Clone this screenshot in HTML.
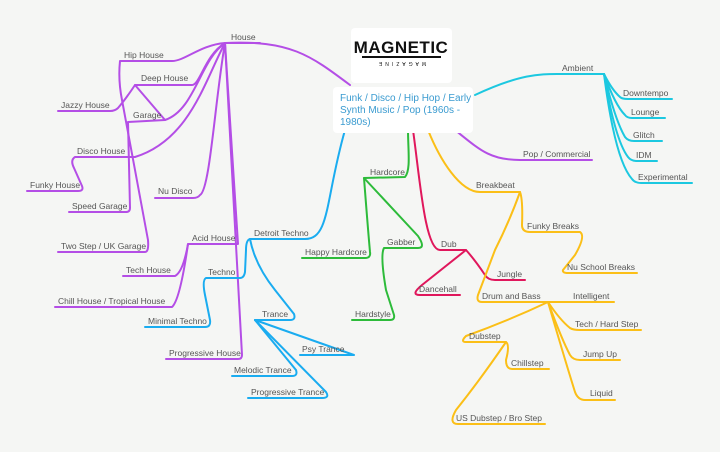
<!DOCTYPE html>
<html><head><meta charset="utf-8"><style>
html,body{margin:0;padding:0;background:#f5f6f4;}
svg{display:block;}
text{font-family:"Liberation Sans",sans-serif;font-size:8.5px;fill:#555;}
path{fill:none;stroke-width:2;stroke-linecap:round;stroke-linejoin:round;}
.p{stroke:#b44ee6}.b{stroke:#1aacf0}.g{stroke:#2dbb3a}.r{stroke:#e0175c}.y{stroke:#fbbf17}.c{stroke:#1cc8e0}
</style></head><body>
<svg width="720" height="452" viewBox="0 0 720 452">
<rect x="0" y="0" width="720" height="452" fill="#f5f6f4"/>
<g class="p">
<path d="M225 43 C290 40 310 55 350 85" stroke-width="2.5"/>
<path d="M225 43 L260 43"/>
<path d="M225 43 C200 45 185 61 172 61 L120 61 Q118 80 122 100 L148 240 Q149 252 145 252 L58 252"/>
<path d="M225 43 C205 55 200 85 192 85 L135 85 Q125 100 118 108 Q115 111 110 111 L58 111"/>
<path d="M135 85 L165 120 L128 122 L130 208 Q130 212 126 212 L69 212"/>
<path d="M225 43 C200 60 195 110 165 120"/>
<path d="M225 43 C205 80 190 140 135 157 L75 157 Q70 160 74 168 L82 186 Q84 191 78 191 L27 191"/>
<path d="M225 43 C215 100 210 190 200 195 Q198 198 193 198 L155 198"/>
<path d="M225 43 L238 244 L188 244 Q183 272 175 276 L123 276"/>
<path d="M188 244 Q180 300 172 307 L55 307"/>
<path d="M225 43 L242 355 Q242 359 238 359 L166 359"/>
<path d="M455 130 C480 150 490 160 520 160 L592 160"/>
</g>
<g class="b">
<path d="M345 130 C325 200 330 239 305 239 L250 239 Q246 240 246 250 L245 272 Q244 278 240 278 L206 278 Q202 280 205 295 L210 320 Q211 327 205 327 L145 327"/>
<path d="M250 239 Q255 265 275 290 L294 314 Q296 320 290 320 L255 320"/>
<path d="M255 320 L354 355 L300 355"/>
<path d="M255 320 L296 370 Q298 376 292 376 L232 376"/>
<path d="M255 320 L326 392 Q330 398 322 398 L248 398"/>
</g>
<g class="g">
<path d="M408 130 C408 150 411 170 405 177 L364 178 Q368 230 370 252 Q371 258 365 258 L302 258"/>
<path d="M364 178 L418 236 Q426 248 418 248 L384 248 Q380 255 386 290 L394 315 Q395 320 390 320 L352 320"/>
</g>
<g class="r">
<path d="M413 130 C420 180 425 250 440 250 L466 250 Q475 260 485 275 Q488 280 495 280 L525 280"/>
<path d="M466 250 L422 285 Q410 295 420 295 L460 295"/>
</g>
<g class="y">
<path d="M428 130 C440 160 460 192 480 192 L520 192 Q523 200 522 225 Q522 232 530 232 L580 232 Q586 236 575 255 L563 270 Q562 273 568 273 L637 273"/>
<path d="M520 192 Q510 220 495 250 L478 295 Q476 302 482 302 L614 302"/>
<path d="M548 302 Q560 320 570 328 Q573 330 580 330 L641 330"/>
<path d="M548 302 Q562 340 570 355 Q573 360 580 360 L620 360"/>
<path d="M548 302 Q565 360 575 392 Q578 400 585 400 L615 400"/>
<path d="M548 302 Q510 320 466 336 Q460 342 466 342 L506 342 Q510 345 506 360 Q506 369 512 369 L549 369"/>
<path d="M506 342 Q480 380 456 410 Q448 424 458 424 L545 424"/>
</g>
<g class="c">
<path d="M475 95 C520 74 540 74 557 74 L604 74"/>
<path d="M604 74 Q612 90 620 97 Q622 99 628 99 L672 99"/>
<path d="M604 74 Q615 105 625 115 Q627 118 632 118 L665 118"/>
<path d="M604 74 Q615 120 625 137 Q628 141 634 141 L662 141"/>
<path d="M604 74 Q615 140 628 157 Q631 161 637 161 L657 161"/>
<path d="M604 74 Q615 160 632 179 Q635 183 641 183 L692 183"/>
</g>
<rect x="351" y="28" width="101" height="55" rx="4" fill="#fff"/>
<text x="401" y="53" text-anchor="middle" style="font-size:17px;font-weight:bold;fill:#111;letter-spacing:0.5px">MAGNETIC</text>
<rect x="362" y="56" width="79" height="2" fill="#111"/>
<text x="401" y="66" text-anchor="middle" style="font-size:5px;fill:#111;letter-spacing:3px" transform="rotate(180 401 64)">MAGAZINE</text>
<rect x="333" y="87" width="140" height="46" rx="4" fill="#fff"/>
<text x="340" y="101" style="font-size:10px;fill:#3a9bd0">Funk / Disco / Hip Hop / Early</text>
<text x="340" y="113" style="font-size:10px;fill:#3a9bd0">Synth Music / Pop (1960s -</text>
<text x="340" y="125" style="font-size:10px;fill:#3a9bd0">1980s)</text>
<text x="231" y="40">House</text>
<text x="124" y="58">Hip House</text>
<text x="141" y="81">Deep House</text>
<text x="61" y="108">Jazzy House</text>
<text x="133" y="118">Garage</text>
<text x="77" y="154">Disco House</text>
<text x="30" y="188">Funky House</text>
<text x="72" y="209">Speed Garage</text>
<text x="158" y="194">Nu Disco</text>
<text x="61" y="249">Two Step / UK Garage</text>
<text x="192" y="241">Acid House</text>
<text x="126" y="273">Tech House</text>
<text x="58" y="304">Chill House / Tropical House</text>
<text x="208" y="275">Techno</text>
<text x="148" y="324">Minimal Techno</text>
<text x="169" y="356">Progressive House</text>
<text x="254" y="236">Detroit Techno</text>
<text x="262" y="317">Trance</text>
<text x="302" y="352">Psy Trance</text>
<text x="234" y="373">Melodic Trance</text>
<text x="251" y="395">Progressive Trance</text>
<text x="305" y="255">Happy Hardcore</text>
<text x="370" y="175">Hardcore</text>
<text x="387" y="245">Gabber</text>
<text x="355" y="317">Hardstyle</text>
<text x="441" y="247">Dub</text>
<text x="497" y="277">Jungle</text>
<text x="419" y="292">Dancehall</text>
<text x="476" y="188">Breakbeat</text>
<text x="527" y="229">Funky Breaks</text>
<text x="567" y="270">Nu School Breaks</text>
<text x="482" y="299">Drum and Bass</text>
<text x="573" y="299">Intelligent</text>
<text x="575" y="327">Tech / Hard Step</text>
<text x="583" y="357">Jump Up</text>
<text x="590" y="396">Liquid</text>
<text x="469" y="339">Dubstep</text>
<text x="511" y="366">Chillstep</text>
<text x="456" y="421">US Dubstep / Bro Step</text>
<text x="562" y="71">Ambient</text>
<text x="523" y="157">Pop / Commercial</text>
<text x="623" y="96">Downtempo</text>
<text x="631" y="115">Lounge</text>
<text x="633" y="138">Glitch</text>
<text x="636" y="158">IDM</text>
<text x="638" y="180">Experimental</text>
</svg>
</body></html>
